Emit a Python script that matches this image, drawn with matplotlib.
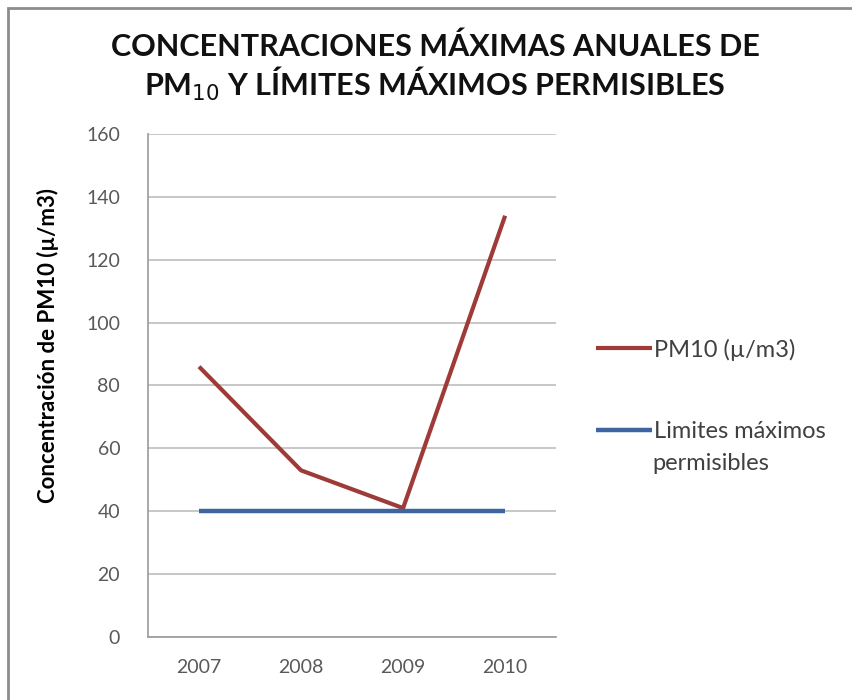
import matplotlib.pyplot as plt
from matplotlib.patches import Rectangle

# Data
years = ['2007', '2008', '2009', '2010']
pm10 = [86, 53, 41, 134]
limits = [40, 40, 40, 40]
y_ticks = [0, 20, 40, 60, 80, 100, 120, 140, 160]

plt.rcParams['font.family'] = ['Lato', 'DejaVu Sans']

fig = plt.figure(figsize=(8.53, 7.0), dpi=100)
ax = fig.add_axes([0.1735, 0.09, 0.4785, 0.7186])

x = range(len(years))
ax.plot(x, pm10, color='#9E3B39', lw=3, label='PM10 (µ/m3)', solid_capstyle='butt')
ax.plot(x, limits, color='#3E65A0', lw=3.2, label='Limites máximos',
        solid_capstyle='butt')

ax.set_xlim(-0.5, len(years) - 0.5)
ax.set_ylim(0, 160)
ax.set_xticks(list(x))
ax.set_xticklabels(years)
ax.set_yticks(y_ticks)
ax.yaxis.grid(True, color='#BEBEBE', lw=1.2)
ax.set_axisbelow(True)
ax.tick_params(axis='both', colors='#595959', labelsize=14, length=0)
ax.tick_params(axis='x', pad=16)
ax.tick_params(axis='y', pad=20)
for side in ['top', 'right']:
    ax.spines[side].set_visible(False)
for side in ['left', 'bottom']:
    ax.spines[side].set_color('#9A9A9A')
    ax.spines[side].set_linewidth(1.2)

ax.set_ylabel('Concentración de PM10 (µ/m3)', fontsize=16, fontweight='bold',
              color='black')
ax.yaxis.set_label_coords(-0.218, 0.58)

fig.text(0.51, 0.933, 'CONCENTRACIONES MÁXIMAS ANUALES DE', ha='center',
         va='center', fontsize=22, fontweight='bold', color='#111111')
fig.text(0.51, 0.880, r'PM$_{10}$ Y LÍMITES MÁXIMOS PERMISIBLES', ha='center',
         va='center', fontsize=22, fontweight='bold', color='#111111')

leg = ax.legend(loc='upper left', bbox_to_anchor=(1.075, 0.612), frameon=False,
                fontsize=17, handlelength=2.35, handletextpad=0.1,
                labelspacing=2.55, labelcolor='#404040', borderaxespad=0)
# second line of the legend label, kept under the first line
fig.text(0.765, 1 - 463 / 700, 'permisibles', ha='left', va='center',
         fontsize=17, color='#404040')

# Outer frame of the chart area
fig.patches.append(Rectangle((0.0095, -0.1), 1.2, 1.0886, transform=fig.transFigure,
                             fill=False, edgecolor='#8C8C8C', lw=2))

fig.savefig('out.png', dpi=100)
